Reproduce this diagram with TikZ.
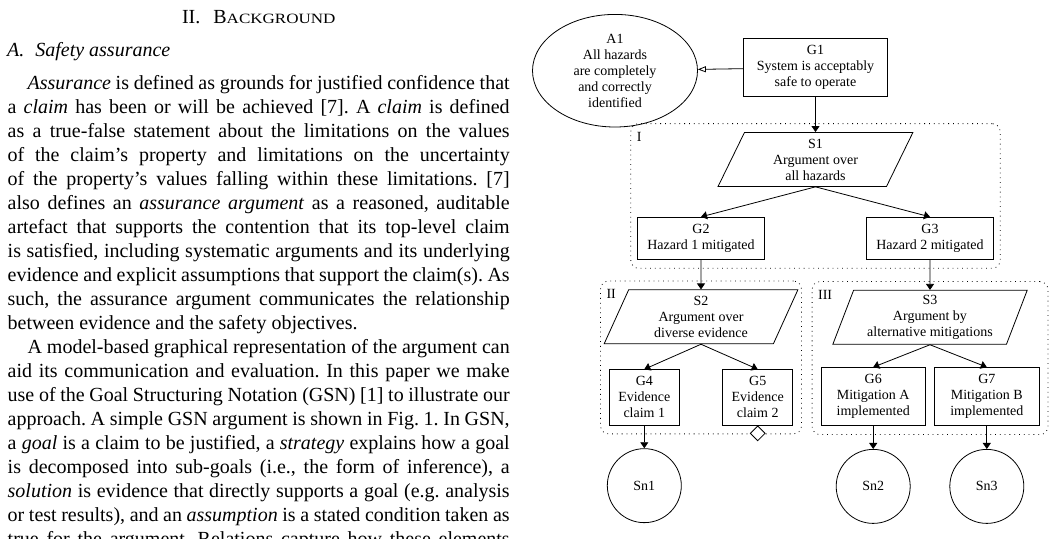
\documentclass[tikz,border=0pt]{standalone}
\usepackage{fontspec}
\setmainfont{Liberation Serif}
\newfontfamily\capsfont[FakeStretch=1.2]{Liberation Serif}
\usepackage{tikz}
\usetikzlibrary{arrows.meta,positioning,fit,shapes.geometric}

\begin{document}
\begin{tikzpicture}[
    font=\fontsize{7}{8}\selectfont,
    goal/.style={rectangle, draw, align=center, inner xsep=3pt, inner ysep=3.5pt},
    strat/.style={trapezium, trapezium left angle=70, trapezium right angle=110, trapezium stretches=true, draw, align=center, minimum width=97.5pt, minimum height=27pt, inner sep=1pt},
    assum/.style={ellipse, draw, align=center, minimum width=82.5pt, minimum height=56.3pt, inner sep=0pt},
    soln/.style={circle, draw, minimum size=37pt, inner sep=0pt},
    undev/.style={diamond, draw, fill=white, minimum width=7.5pt, minimum height=7.5pt, inner sep=0pt},
    grp/.style={draw, dotted, rounded corners=4pt, inner sep=4.2pt},
    grplabel/.style={anchor=north west, inner xsep=3pt, inner ysep=4.3pt},
    arrow/.style={-{Triangle[length=3pt,width=4pt]}},
    ctx/.style={-{Triangle[open,length=4pt,width=3pt]}},
    txt/.style={inner sep=0pt, font=\fontsize{10}{12}\selectfont}
]
\useasboundingbox (0pt,0pt) rectangle (527pt,-269pt);

\node[txt, anchor=base] (sec) at (129.4pt,-11.7pt) {II.\hspace{6.5pt}B{\capsfont\fontsize{7.1}{8}\selectfont ACKGROUND}};
\node[txt, anchor=base west] (subsec) at (3.35pt,-28.3pt) {\itshape A.\hspace{5.5pt}Safety assurance};
\node[txt, anchor=north west, text width=251pt, align=justify] (body) at (3.65pt,-36.3pt) {\frenchspacing\noindent\strut\hspace*{10pt}\emph{Assurance} is defined as grounds for justified confidence that\linebreak
a \emph{claim} has been or will be achieved [7]. A \emph{claim} is defined\linebreak
as a true-false statement about the limitations on the values\linebreak
of the claim's property and limitations on the uncertainty\linebreak
of the property's values falling within these limitations. [7]\linebreak
also defines an \emph{assurance argument} as a reasoned, auditable\linebreak
artefact that supports the contention that its top-level claim\linebreak
is satisfied, including systematic arguments and its underlying\linebreak
evidence and explicit assumptions that support the claim(s). As\linebreak
such, the assurance argument communicates the relationship\linebreak
between evidence and the safety objectives.\par
\noindent\hspace*{10pt}A model-based graphical representation of the argument can\linebreak
aid its communication and evaluation. In this paper we make\linebreak
use of the Goal Structuring Notation (GSN) [1] to illustrate our\linebreak
approach. A simple GSN argument is shown in Fig.~1. In GSN,\linebreak
a \emph{goal} is a claim to be justified, a \emph{strategy} explains how a goal\linebreak
is decomposed into sub-goals (i.e., the form of inference), a\linebreak
\emph{solution} is evidence that directly supports a goal (e.g. analysis\linebreak
or test results), and an \emph{assumption} is a stated condition taken as\linebreak
true for the argument. Relations capture how these elements\linebreak\mbox{}};

\node[goal, minimum width=72.2pt] (g1) at (407.75pt,-33.75pt) {G1\\System is acceptably\\safe to operate};
\node[assum, left=22.5pt of g1, yshift=-1.6pt] (a1) {A1\\All hazards\\are completely\\and correctly\\identified};
\node[strat, below=17.5pt of g1] (s1) {S1\\Argument over\\all hazards};
\node[goal, minimum width=63.8pt, below=15pt of s1, xshift=-57.25pt] (g2) {G2\\Hazard 1 mitigated};
\node[goal, minimum width=63.8pt, below=15pt of s1, xshift=57.25pt] (g3) {G3\\Hazard 2 mitigated};
\node[strat, below=14.75pt of g2] (s2) {S2\\Argument over\\diverse evidence};
\node[strat, below=15pt of g3] (s3) {S3\\Argument by\\alternative mitigations};
\node[goal, minimum width=35pt, below=12.5pt of s2, xshift=-28.35pt] (g4) {G4\\Evidence\\claim 1};
\node[goal, minimum width=35pt, below=12.5pt of s2, xshift=28.35pt] (g5) {G5\\Evidence\\claim 2};
\node[goal, minimum width=52.3pt, below=11.2pt of s3, xshift=-28.4pt] (g6) {G6\\Mitigation A\\implemented};
\node[goal, minimum width=52.3pt, below=11.2pt of s3, xshift=28.4pt] (g7) {G7\\Mitigation B\\implemented};
\node[soln, below=11.4pt of g4] (sn1) {Sn1};
\node[soln, below=11.4pt of g6] (sn2) {Sn2};
\node[soln, below=11.4pt of g7] (sn3) {Sn3};

\node[grp, fit=(s1)(g2)(g3), inner xsep=3pt] (grp1) {};
\node[grp, fit=(s2)(g4)(g5)] (grp2) {};
\node[grp, fit=(s3)(g6)(g7)] (grp3) {};
\node[grplabel] (l1) at (grp1.north west) {I};
\node[grplabel] (l2) at (grp2.north west) {II};
\node[grplabel] (l3) at (grp3.north west) {III};
\node[undev, below=0pt of g5] (u5) {};

\draw[ctx] (g1) -- (a1);
\draw[arrow] (g1) -- (s1);
\draw[arrow] (s1.south) -- (g2.north);
\draw[arrow] (s1.south) -- (g3.north);
\draw[arrow] (g2) -- (s2);
\draw[arrow] (g3) -- (s3);
\draw[arrow] (s2.south) -- (g4.north);
\draw[arrow] (s2.south) -- (g5.north);
\draw[arrow] (s3.south) -- (g6.north);
\draw[arrow] (s3.south) -- (g7.north);
\draw[arrow] (g4) -- (sn1);
\draw[arrow] (g6) -- (sn2);
\draw[arrow] (g7) -- (sn3);
\end{tikzpicture}
\end{document}
